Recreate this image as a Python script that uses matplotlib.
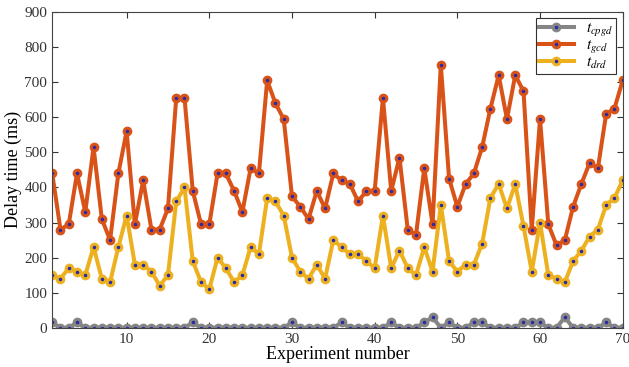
import numpy as np
import matplotlib.pyplot as plt

plt.rcParams['font.family'] = 'Liberation Serif'
plt.rcParams['mathtext.fontset'] = 'stix'

experiment = np.arange(1, 71)

t_cpgd = [15, 0, 0, 15, 0, 0, 0, 0, 0, 0,
          0, 0, 0, 0, 0, 0, 0, 15, 0, 0,
          0, 0, 0, 0, 0, 0, 0, 0, 0, 15,
          0, 0, 0, 0, 0, 15, 0, 0, 0, 0,
          0, 15, 0, 0, 0, 15, 30, 0, 15, 0,
          0, 15, 15, 0, 0, 0, 0, 15, 15, 15,
          0, 0, 30, 0, 0, 0, 0, 15, 0, 0]

t_gcd = [440, 280, 295, 440, 330, 515, 310, 250, 440, 560,
         295, 420, 280, 280, 340, 655, 655, 390, 295, 295,
         440, 440, 390, 330, 455, 440, 705, 640, 595, 375,
         345, 310, 390, 340, 440, 420, 410, 360, 390, 390,
         655, 390, 485, 280, 265, 455, 295, 750, 425, 345,
         410, 440, 515, 625, 720, 595, 720, 675, 280, 595,
         295, 235, 250, 345, 410, 470, 455, 610, 625, 705]

t_drd = [150, 140, 170, 160, 150, 230, 140, 130, 230, 320,
         180, 180, 160, 120, 150, 360, 400, 190, 130, 110,
         200, 170, 130, 150, 230, 210, 370, 360, 320, 200,
         160, 140, 180, 140, 250, 230, 210, 210, 190, 170,
         320, 170, 220, 170, 150, 230, 160, 350, 190, 160,
         180, 180, 240, 370, 410, 340, 410, 290, 160, 300,
         150, 140, 130, 190, 220, 260, 280, 350, 370, 420]

series = [
    (t_cpgd, '#858585', r'$t_{cpgd}$'),
    (t_gcd, '#D95319', r'$t_{gcd}$'),
    (t_drd, '#EDB120', r'$t_{drd}$'),
]

fig = plt.figure(figsize=(6.29, 3.67), dpi=100)
ax = fig.add_axes([0.083, 0.107, 0.907, 0.86])

for vals, col, lab in series:
    ax.plot(experiment, vals, color=col, lw=2.9, marker='o', ms=4.8,
            mec=col, mfc='#2b2ba8', mew=2.2, label=lab)

ax.set_xlim(1, 70)
ax.set_ylim(0, 900)
ax.set_xticks(range(10, 71, 10))
ax.set_yticks(range(0, 901, 100))
ax.tick_params(direction='in', top=True, right=True, labelsize=11,
               colors='#333333', length=4)
for s in ax.spines.values():
    s.set_color('#444444')
    s.set_linewidth(0.8)

ax.set_xlabel('Experiment number', fontsize=13, labelpad=0)
ax.set_ylabel('Delay time (ms)', fontsize=13, labelpad=2)

leg = ax.legend(loc='upper right', fontsize=11, fancybox=False,
                framealpha=1, edgecolor='#333333', handlelength=2.3,
                borderpad=0.2, labelspacing=0.0, handletextpad=0.8,
                borderaxespad=0, bbox_to_anchor=(0.989, 0.98))
leg.get_frame().set_linewidth(0.8)

fig.savefig('out.png', dpi=100)
